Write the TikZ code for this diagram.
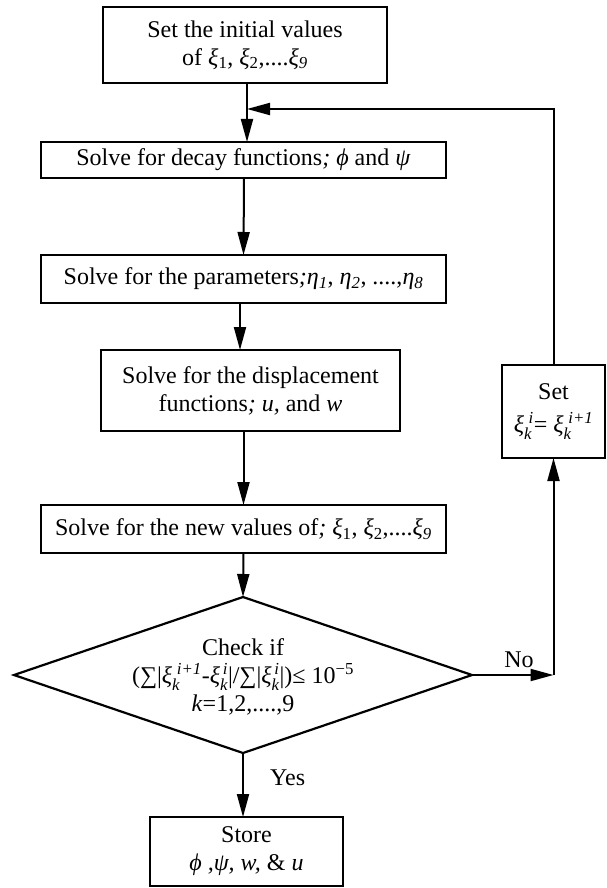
\documentclass[tikz,border=0pt]{standalone}
\usepackage{amsmath}
\usepackage{fontspec}
\setmainfont{Liberation Serif}
\usetikzlibrary{arrows.meta,shapes.geometric}
\newcommand{\xx}{\textit{ξ}}
\newcommand{\SB}[2]{\ensuremath{^{\text{\itshape #2}}_{\text{\itshape #1}}}}
\newcommand{\sbi}[1]{\ensuremath{_{\text{\itshape #1}}}}
\newcommand{\sbu}[1]{\ensuremath{_{\text{#1}}}}
\begin{document}
\begin{tikzpicture}[x=1pt,y=-1pt,
  font=\fontsize{24}{28}\selectfont,
  box/.style={draw, line width=2.2pt, inner sep=0pt, outer sep=0pt, align=center},
  arr/.style={line width=2pt, -{Triangle[length=23pt,width=12pt]}},
  lbl/.style={inner sep=0pt}]
\useasboundingbox (0,0) rectangle (606,888);
\node[box, minimum width=284pt, minimum height=76pt] (b1) at (245,45)
  {Set the initial values\\ of \xx\sbu{1}, \xx\sbu{2},....\xx\sbi{9}};
\node[box, minimum width=405pt, minimum height=36pt] (b2) at (243.5,160)
  {Solve for decay functions\textit{; ϕ} and \textit{ψ}};
\node[box, minimum width=405pt, minimum height=48pt] (b3) at (243.5,279)
  {Solve for the parameters\textit{;η}\sbi{1}, \textit{η}\sbi{2}, ....,\textit{η}\sbi{8}};
\node[box, minimum width=299pt, minimum height=81pt] (b4) at (250.5,390.5)
  {Solve for the displacement\\ functions\textit{; u,} and \textit{w}};
\node[box, minimum width=405pt, minimum height=48pt] (b5) at (243.5,529)
  {Solve for the new values of\textit{;} \xx\sbu{1}, \xx\sbu{2},....\xx\sbi{9}};
\node[diamond, draw, line width=2.2pt, inner sep=0pt, outer sep=0pt,
  minimum width=458pt, minimum height=156pt] (chk) at (243,675) {};
\node[lbl, align=center] (chkt) at (243,677)
  {Check if\\ (∑|\xx\SB{k}{\;i+1}-\xx\SB{k}{\,i}|/∑|\xx\SB{k}{\,i}|)≤ 10\textsuperscript{−5}\\ \textit{k}=1,2,....,9};
\node[box, minimum width=103pt, minimum height=93pt] (set) at (553.5,411.5)
  {Set\\[5pt] \xx\SB{k}{\;i}= \xx\SB{k}{\;i+1}};
\node[box, minimum width=193pt, minimum height=69pt] (st) at (246.5,851.5)
  {Store\\ \textit{ϕ ,ψ, w,} \& \textit{u}};
\coordinate (j) at (247,109);
\coordinate (c) at (set.south |- chk.east);
\draw[arr] (b1.south -| j) -- (b2.north -| j);
\draw[arr] (b2.south) ++(0.5,0) -- (b3.north);
\draw[arr] (b3.south) ++(-3.5,0) coordinate (t3) -- (t3 |- b4.north);
\draw[arr] (b4.south) ++(-7,0) coordinate (t4) -- (t4 |- b5.north);
\draw[arr] (b5.south) -- (chk.north);
\draw[arr] (chk.east) -- (c);
\draw[arr] (c) -- (set.south);
\draw[arr] (set.north) -- (set.north |- j) -- (j);
\draw[arr] (chk.south) -- (chk.south |- st.north);
\node[lbl, anchor=south] at (519,668) {No};
\node[lbl, anchor=west] at (270,778) {Yes};
\end{tikzpicture}
\end{document}
